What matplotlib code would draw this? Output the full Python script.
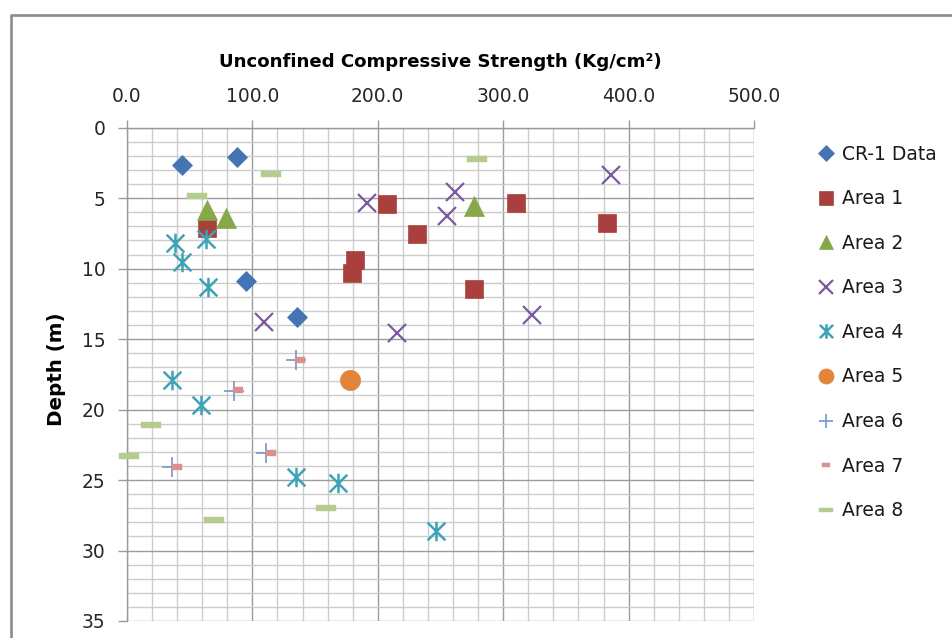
import matplotlib
matplotlib.use('Agg')
import matplotlib.pyplot as plt
from matplotlib.path import Path
from matplotlib.lines import Line2D
from matplotlib.ticker import MultipleLocator

# ---------------- data ----------------
cr1_x = [43.6, 87.5, 94.6, 135.3]
cr1_y = [2.65, 2.1, 10.86, 13.4]
a1_x = [64, 207, 231, 181.8, 179.7, 310, 382.5, 276.7]
a1_y = [7.14, 5.42, 7.57, 9.39, 10.33, 5.37, 6.79, 11.45]
a2_x = [64, 79, 276.7]
a2_y = [5.84, 6.43, 5.56]
a3_x = [191, 261.6, 255, 386, 109.2, 215, 323]
a3_y = [5.32, 4.54, 6.3, 3.36, 13.77, 14.6, 13.3]
a4_x = [38.3, 43.6, 63, 64.3, 35.6, 59, 134.5, 168, 246.4]
a4_y = [8.2, 9.51, 7.92, 11.28, 17.9, 19.68, 24.77, 25.24, 28.62]
a5_x = [177.8]
a5_y = [17.9]
a6_x = [134.5, 85.3, 110.8, 35.6]
a6_y = [16.49, 18.66, 23.06, 24.1]
a7_x = [138, 88.8, 114.8, 39.6]
a7_y = [16.49, 18.6, 23.1, 24.1]
a8_x = [114.8, 55.6, 279.4, 18.9, 1.8, 69.4, 158.4]
a8_y = [3.26, 4.85, 2.2, 21.1, 23.3, 27.84, 26.97]

labels = ["CR-1 Data", "Area 1", "Area 2", "Area 3", "Area 4",
          "Area 5", "Area 6", "Area 7", "Area 8"]
x_ticks = [0, 100, 200, 300, 400, 500]
y_ticks = [0, 5, 10, 15, 20, 25, 30, 35]
title = "Unconfined Compressive Strength (Kg/cm\u00b2)"
ylabel = "Depth (m)"

# ---------------- style ----------------
FONT = ['DejaVu Sans']
plt.rcParams['font.family'] = FONT

star = Path([(-0.5, -0.5), (0.5, 0.5), (-0.5, 0.5), (0.5, -0.5), (0, -0.55), (0, 0.55)],
            [Path.MOVETO, Path.LINETO, Path.MOVETO, Path.LINETO, Path.MOVETO, Path.LINETO])
long_dash = Path([(-1, -0.3), (1, -0.3), (1, 0.3), (-1, 0.3), (-1, -0.3)],
                 [Path.MOVETO, Path.LINETO, Path.LINETO, Path.LINETO, Path.CLOSEPOLY])
short_dash = Path([(-1, -0.5), (1, -0.5), (1, 0.5), (-1, 0.5), (-1, -0.5)],
                  [Path.MOVETO, Path.LINETO, Path.LINETO, Path.LINETO, Path.CLOSEPOLY])

fig = plt.figure(figsize=(9.52, 6.38), dpi=100)
W, H = 952, 638
x0, x1, y0, y1 = 127, 754, 127.7, 621
ax = fig.add_axes([x0 / W, 1 - y1 / H, (x1 - x0) / W, (y1 - y0) / H])

series = [
    (cr1_x, cr1_y, dict(marker='D', ms=10.2, color='#4474B3', mec='#4474B3', mew=0.5)),
    (a1_x, a1_y, dict(marker='s', ms=13.5, color='#AA403D', mec='#AA403D', mew=0.5)),
    (a2_x, a2_y, dict(marker='^', ms=14, color='#86A846', mec='#86A846', mew=0.5)),
    (a3_x, a3_y, dict(marker='x', ms=13, color='#7A5A9E', mew=1.6)),
    (a4_x, a4_y, dict(marker=star, ms=14, color='#3FA3B8', mew=1.8)),
    (a5_x, a5_y, dict(marker='o', ms=14.5, color='#E2843A', mec='#E2843A', mew=0.5)),
    (a6_x, a6_y, dict(marker='+', ms=14, color='#7E9DD0', mew=1.3)),
    (a7_x, a7_y, dict(marker=short_dash, ms=7.8, color='#D9908E', mec='#D9908E', mew=0.3)),
    (a8_x, a8_y, dict(marker=long_dash, ms=13.8, color='#B4CC90', mec='#B4CC90', mew=0.3)),
]
handles = []
for (xs, ys, st), lab in zip(series, labels):
    h, = ax.plot(xs, ys, linestyle='none', label=lab, zorder=5, clip_on=False, **st)
    handles.append(h)

ax.set_xlim(0, 500)
ax.set_ylim(35, 0)
ax.set_xticks(x_ticks)
ax.set_xticklabels([f"{v:.1f}" for v in x_ticks])
ax.set_yticks(y_ticks)
ax.set_yticklabels([str(v) for v in y_ticks])
ax.xaxis.set_minor_locator(MultipleLocator(20))
ax.yaxis.set_minor_locator(MultipleLocator(1))

ax.grid(which='minor', color='#CCCCCC', linewidth=1.0, zorder=1)
ax.grid(which='major', color='#9C9C9C', linewidth=1.0, zorder=2)
ax.set_axisbelow(True)
for s in ['right', 'bottom']:
    ax.spines[s].set_visible(False)
for s in ['left', 'top']:
    ax.spines[s].set_color('#9A9A9A')
    ax.spines[s].set_linewidth(1.0)

ax.tick_params(axis='x', which='major', top=True, labeltop=True, bottom=False, labelbottom=False,
               direction='out', length=5.8, width=1.0, color='#9A9A9A', pad=9.5,
               labelsize=13.4, labelcolor='#262626')
ax.tick_params(axis='y', which='major', left=True, direction='out', length=6.5, width=1.0,
               color='#9A9A9A', pad=9, labelsize=13.4, labelcolor='#262626')
ax.tick_params(which='minor', length=0)

fig.text(440.5 / W, 1 - 62 / H, title, ha='center', va='center', fontsize=13.1,
         fontweight='bold', color='#000000')
fig.text(57 / W, 1 - 369 / H, ylabel, ha='center', va='center', rotation=90,
         fontsize=14.3, fontweight='bold', color='#000000')

leg = fig.legend(handles=handles, labels=labels, loc='upper left',
                 bbox_to_anchor=(817 / W, 1 - 144.5 / H), frameon=False,
                 fontsize=13.5, handlelength=1.0, handletextpad=0.35,
                 labelspacing=1.365, borderpad=0, borderaxespad=0, markerscale=0.75)
for t in leg.get_texts():
    t.set_color('#1a1a1a')

# chart-area border (cropped at right and bottom)
fig.add_artist(Line2D([10 / W, 1.01], [1 - 14.5 / H, 1 - 14.5 / H], transform=fig.transFigure,
                      color='#8C8C8C', linewidth=1.9, solid_capstyle='butt'))
fig.add_artist(Line2D([10.8 / W, 10.8 / W], [1 - 14.5 / H, -0.01], transform=fig.transFigure,
                      color='#8C8C8C', linewidth=1.9, solid_capstyle='butt'))

fig.savefig('out.png', dpi=100)
